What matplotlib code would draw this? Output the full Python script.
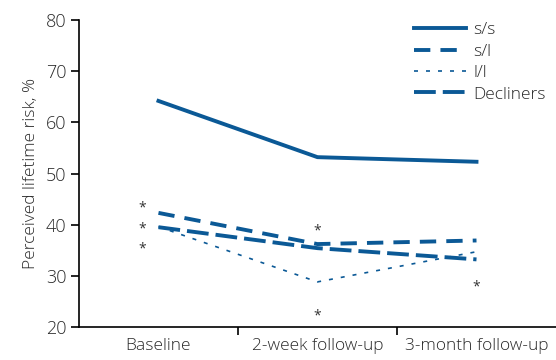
import matplotlib.pyplot as plt
import numpy as np

plt.rcParams['font.family'] = ['Open Sans', 'DejaVu Sans']
plt.rcParams['font.weight'] = 'light'
plt.rcParams['axes.labelweight'] = 'light'

# ── 資料 ──
timepoints = ["Baseline", "2-week follow-up", "3-month follow-up"]
ss = [64.2, 53.2, 52.3]
sl = [42.3, 36.2, 36.9]
ll = [39.6, 28.8, 34.7]
decliners = [39.5, 35.4, 33.2]

# significance markers (x index, value)
star_x = [0, 0, 0, 1, 1, 2]
star_y = [43.2, 39.1, 35.2, 38.8, 22.1, 27.9]

blue = "#0b5996"
grey = "#2a2a2a"

fig = plt.figure(figsize=(5.56, 3.6), dpi=100)
ax = fig.add_axes([0.142, 0.092, 0.858, 0.852])

x = np.arange(len(timepoints))
ax.plot(x, ss, color=blue, lw=2.8, label="s/s")
ax.plot(x, sl, color=blue, lw=2.8, dashes=(4.2, 2.6), label="s/l")
ax.plot(x, ll, color=blue, lw=1.2, dashes=(2.4, 4.8), label="l/l")
ax.plot(x, decliners, color=blue, lw=2.8, dashes=(5.6, 1.8), label="Decliners")

for sx, sy in zip(star_x, star_y):
    ax.text(sx - 0.1 if sx == 0 else sx, sy, "*", ha="center", va="center",
            fontsize=10, color="#333333", fontweight="normal")

ax.set_xlim(-0.5, 2.5)
ax.set_ylim(20, 80)
ax.set_yticks(range(20, 81, 10))
ax.set_xticks(x)
ax.set_xticklabels(timepoints)
ax.set_xticks([0.5, 1.5], minor=True)
ax.tick_params(axis="x", which="major", length=0, pad=8, labelsize=12.5)
ax.tick_params(axis="x", which="minor", length=6, width=1.2, direction="out")
ax.tick_params(axis="y", length=6, width=1.2, labelsize=13, pad=3)
for lab in ax.get_yticklabels() + ax.get_xticklabels():
    lab.set_color(grey)

ax.set_ylabel("Perceived lifetime risk, %", fontsize=12.5, color=grey, labelpad=5)

for s in ["top", "right"]:
    ax.spines[s].set_visible(False)
for s in ["left", "bottom"]:
    ax.spines[s].set_linewidth(1.2)

ax.legend(loc="upper right", bbox_to_anchor=(1.0, 1.027), frameon=False,
          fontsize=12.5, handlelength=3.0, handletextpad=0.4,
          labelspacing=0.3, labelcolor=grey, borderaxespad=0.2)

fig.savefig("out.png", dpi=100)
